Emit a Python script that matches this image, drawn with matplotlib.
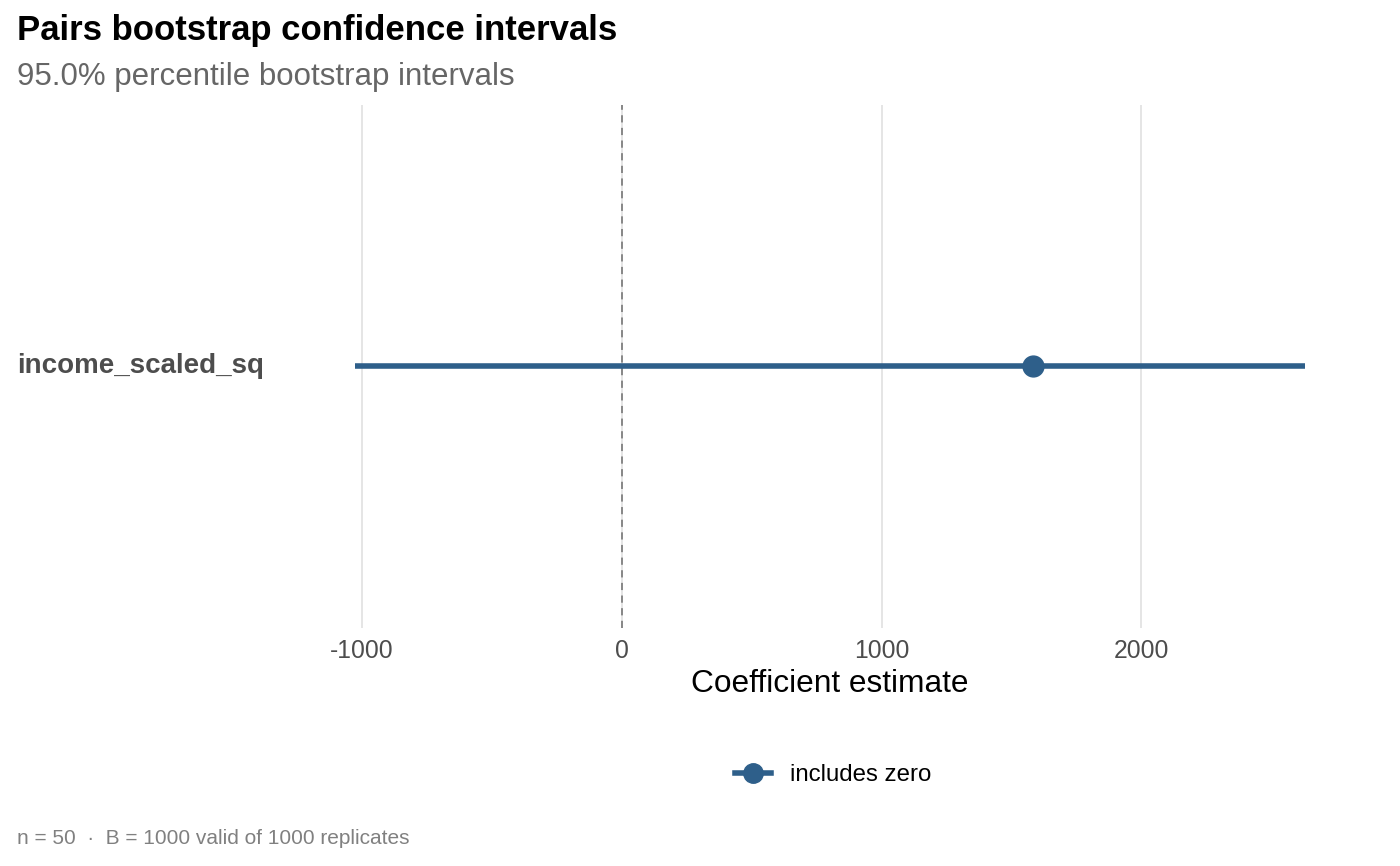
import matplotlib
matplotlib.use("Agg")
import matplotlib.pyplot as plt
from matplotlib.lines import Line2D

terms = ["income_scaled_sq"]
estimates = [1585]
lower = [-1025]
upper = [2630]
ticks = [-1000, 0, 1000, 2000]
color = "#2E5F8A"

plt.rcParams['font.family'] = ['Liberation Sans', 'DejaVu Sans']
fig = plt.figure(figsize=(14, 8.66), dpi=100)
ax = fig.add_axes([0.22, 0.275, 0.746, 0.604])
for i, t in enumerate(terms):
    ax.plot([lower[i], upper[i]], [i, i], color=color, lw=4, solid_capstyle='butt', zorder=3)
    ax.plot(estimates[i], i, 'o', color=color, ms=15, zorder=4)
ax.axvline(0, color='#808080', ls=(0, (4, 3)), lw=1.3, zorder=2)
span = max(upper) - min(lower)
ax.set_xlim(min(lower) - 0.05 * span, max(upper) + 0.05 * span)
ax.set_ylim(-0.6, 0.6)
ax.set_xticks(ticks)
ax.set_xticklabels([str(t) for t in ticks], color='#4d4d4d', fontsize=17.8)
ax.set_yticks([])
for i, t in enumerate(terms):
    ax.text(0.012, i, t, transform=ax.get_yaxis_transform().__class__(fig.transFigure, ax.transData),
            fontsize=20, fontweight='bold', color='#4d4d4d', ha='left', va='center')
ax.tick_params(length=0, pad=8)
ax.grid(axis='x', color='#e0e0e0', lw=1.2, zorder=0)
for s in ax.spines.values():
    s.set_visible(False)
ax.set_xlabel("Coefficient estimate", fontsize=22.8, labelpad=4)

fig.text(0.012, 0.965, "Pairs bootstrap confidence intervals", fontsize=25, fontweight='bold', va='center')
fig.text(0.012, 0.911, "95.0% percentile bootstrap intervals", fontsize=22.5, color='#666666', va='center')
fig.text(0.012, 0.032, "n = 50  ·  B = 1000 valid of 1000 replicates", fontsize=15, color='#808080', va='center')

h = Line2D([], [], color=color, lw=4, marker='o', ms=14)
fig.legend([h], ["includes zero"], loc='center', bbox_to_anchor=(0.595, 0.105), frameon=False, fontsize=17.3,
           handlelength=1.5)
fig.savefig("out.png", dpi=100)
